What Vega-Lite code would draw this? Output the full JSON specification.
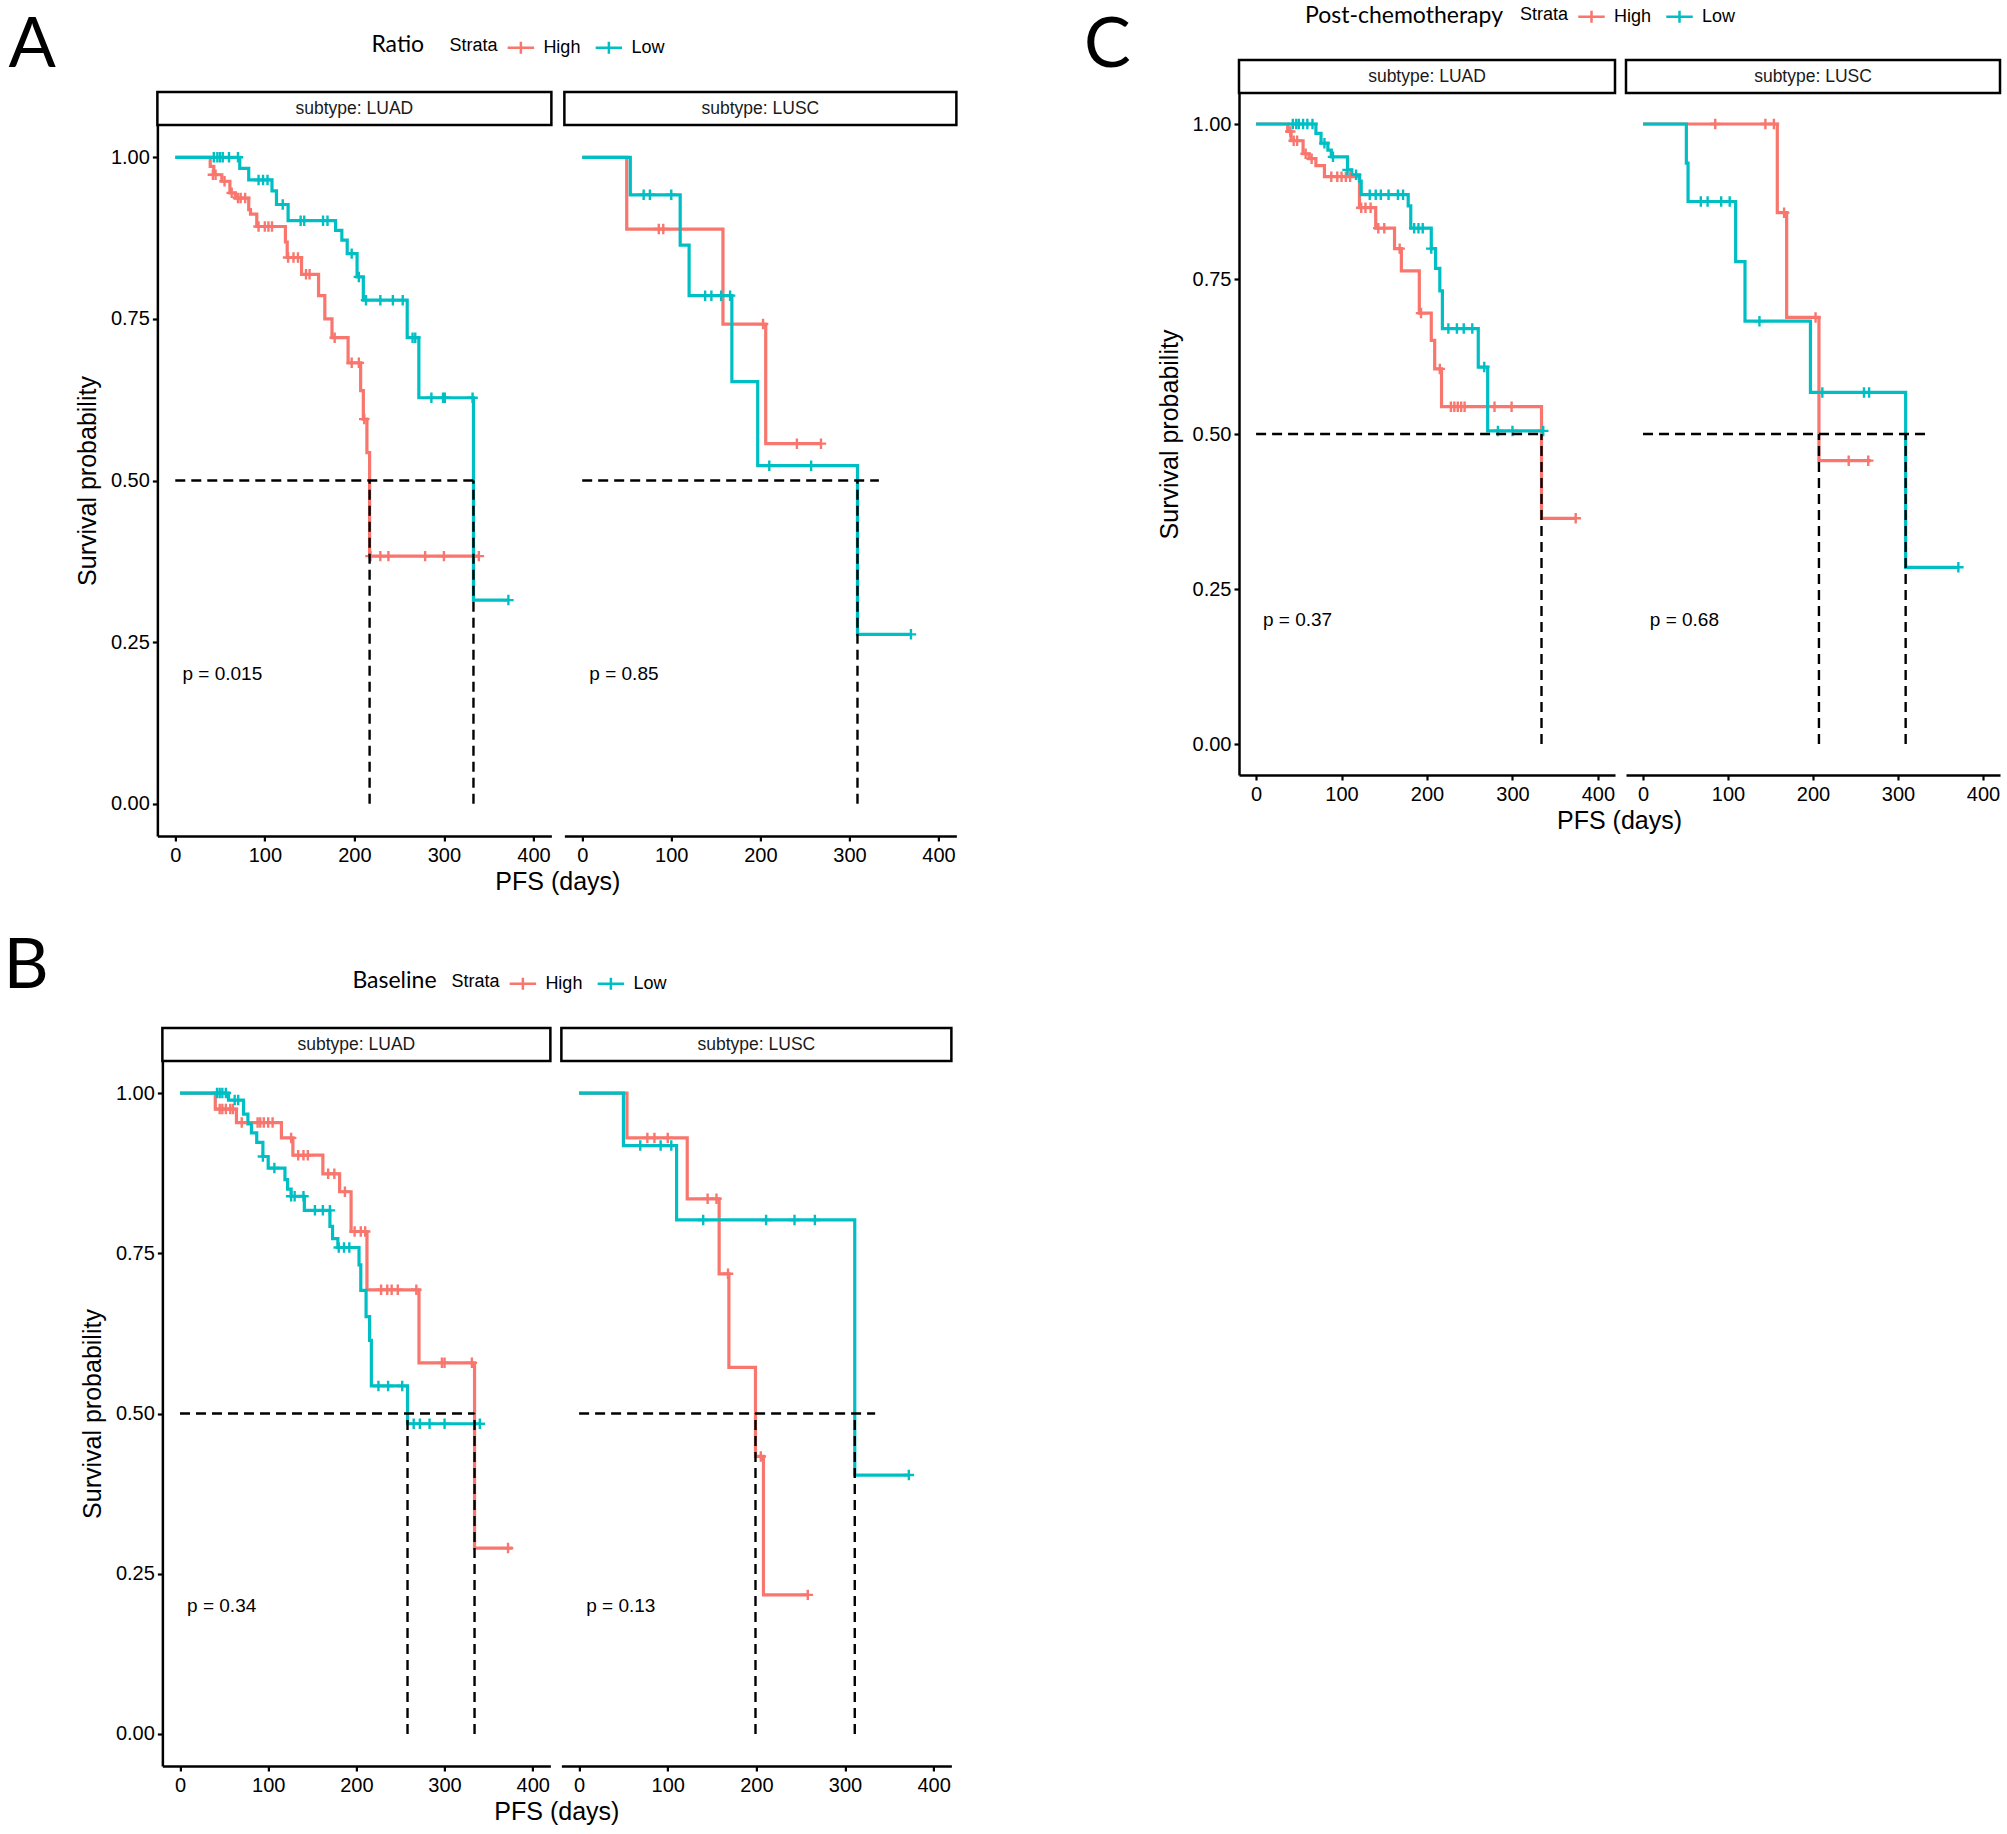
{
"$schema": "https://vega.github.io/schema/vega-lite/v6.json",
"background": "white",
"padding": {"left": 3, "top": 2, "right": 2, "bottom": 2},
"config": {
  "view": {"stroke": null},
  "font": "Liberation Sans",
  "axis": {"domainColor": "black", "domainWidth": 2.5, "tickColor": "black", "tickWidth": 2.2, "tickSize": 5, "labelColor": "black", "labelFont": "Liberation Sans", "labelFontSize": 20, "labelPadding": 3, "titleFont": "Liberation Sans", "titleFontSize": 25, "titleFontWeight": "normal", "titleColor": "black", "grid": false, "labelFlush": false},
  "axisX": {"labelPadding": 4, "titlePadding": 4},
  "legend": {"titleFont": "Liberation Sans", "titleFontSize": 18, "titleFontWeight": "normal", "titleColor": "black", "labelFont": "Liberation Sans", "labelFontSize": 18, "labelColor": "black"},
  "title": {"font": "Lato", "fontWeight": "normal", "color": "black"}
},
"datasets": {
"km": [
{"p":"A","g":"LUAD","k":"High","t":0,"s":1},{"p":"A","g":"LUAD","k":"High","t":39,"s":0.986},{"p":"A","g":"LUAD","k":"High","t":43,"s":0.973},{"p":"A","g":"LUAD","k":"High","t":52,"s":0.963},{"p":"A","g":"LUAD","k":"High","t":61,"s":0.945},{"p":"A","g":"LUAD","k":"High","t":67,"s":0.937},{"p":"A","g":"LUAD","k":"High","t":82,"s":0.919},{"p":"A","g":"LUAD","k":"High","t":84,"s":0.912},{"p":"A","g":"LUAD","k":"High","t":91,"s":0.893},{"p":"A","g":"LUAD","k":"High","t":123,"s":0.869},{"p":"A","g":"LUAD","k":"High","t":125,"s":0.845},{"p":"A","g":"LUAD","k":"High","t":141,"s":0.819},{"p":"A","g":"LUAD","k":"High","t":160,"s":0.786},{"p":"A","g":"LUAD","k":"High","t":167,"s":0.75},{"p":"A","g":"LUAD","k":"High","t":175,"s":0.721},{"p":"A","g":"LUAD","k":"High","t":193,"s":0.682},{"p":"A","g":"LUAD","k":"High","t":207,"s":0.639},{"p":"A","g":"LUAD","k":"High","t":210,"s":0.595},{"p":"A","g":"LUAD","k":"High","t":214,"s":0.543},{"p":"A","g":"LUAD","k":"High","t":217,"s":0.383},{"p":"A","g":"LUAD","k":"High","t":339,"s":0.383},
{"p":"A","g":"LUAD","k":"Low","t":0,"s":1},{"p":"A","g":"LUAD","k":"Low","t":72,"s":0.983},{"p":"A","g":"LUAD","k":"Low","t":82,"s":0.965},{"p":"A","g":"LUAD","k":"Low","t":108,"s":0.948},{"p":"A","g":"LUAD","k":"Low","t":113,"s":0.927},{"p":"A","g":"LUAD","k":"Low","t":126,"s":0.902},{"p":"A","g":"LUAD","k":"Low","t":179,"s":0.887},{"p":"A","g":"LUAD","k":"Low","t":186,"s":0.872},{"p":"A","g":"LUAD","k":"Low","t":192,"s":0.851},{"p":"A","g":"LUAD","k":"Low","t":203,"s":0.815},{"p":"A","g":"LUAD","k":"Low","t":210,"s":0.779},{"p":"A","g":"LUAD","k":"Low","t":259,"s":0.721},{"p":"A","g":"LUAD","k":"Low","t":272,"s":0.628},{"p":"A","g":"LUAD","k":"Low","t":333,"s":0.315},{"p":"A","g":"LUAD","k":"Low","t":372,"s":0.315},
{"p":"A","g":"LUSC","k":"High","t":0,"s":1},{"p":"A","g":"LUSC","k":"High","t":50,"s":0.889},{"p":"A","g":"LUSC","k":"High","t":158,"s":0.742},{"p":"A","g":"LUSC","k":"High","t":206,"s":0.557},{"p":"A","g":"LUSC","k":"High","t":268,"s":0.557},
{"p":"A","g":"LUSC","k":"Low","t":0,"s":1},{"p":"A","g":"LUSC","k":"Low","t":54,"s":0.942},{"p":"A","g":"LUSC","k":"Low","t":110,"s":0.864},{"p":"A","g":"LUSC","k":"Low","t":120,"s":0.786},{"p":"A","g":"LUSC","k":"Low","t":168,"s":0.653},{"p":"A","g":"LUSC","k":"Low","t":197,"s":0.523},{"p":"A","g":"LUSC","k":"Low","t":309,"s":0.262},{"p":"A","g":"LUSC","k":"Low","t":369,"s":0.262},
{"p":"B","g":"LUAD","k":"High","t":0,"s":1},{"p":"B","g":"LUAD","k":"High","t":40,"s":0.975},{"p":"B","g":"LUAD","k":"High","t":64,"s":0.954},{"p":"B","g":"LUAD","k":"High","t":115,"s":0.93},{"p":"B","g":"LUAD","k":"High","t":128,"s":0.903},{"p":"B","g":"LUAD","k":"High","t":162,"s":0.874},{"p":"B","g":"LUAD","k":"High","t":181,"s":0.846},{"p":"B","g":"LUAD","k":"High","t":194,"s":0.784},{"p":"B","g":"LUAD","k":"High","t":212,"s":0.693},{"p":"B","g":"LUAD","k":"High","t":271,"s":0.579},{"p":"B","g":"LUAD","k":"High","t":334,"s":0.29},{"p":"B","g":"LUAD","k":"High","t":377,"s":0.29},
{"p":"B","g":"LUAD","k":"Low","t":0,"s":1},{"p":"B","g":"LUAD","k":"Low","t":55,"s":0.989},{"p":"B","g":"LUAD","k":"Low","t":72,"s":0.967},{"p":"B","g":"LUAD","k":"Low","t":77,"s":0.952},{"p":"B","g":"LUAD","k":"Low","t":81,"s":0.938},{"p":"B","g":"LUAD","k":"Low","t":87,"s":0.923},{"p":"B","g":"LUAD","k":"Low","t":94,"s":0.901},{"p":"B","g":"LUAD","k":"Low","t":100,"s":0.883},{"p":"B","g":"LUAD","k":"Low","t":119,"s":0.865},{"p":"B","g":"LUAD","k":"Low","t":122,"s":0.85},{"p":"B","g":"LUAD","k":"Low","t":126,"s":0.839},{"p":"B","g":"LUAD","k":"Low","t":141,"s":0.817},{"p":"B","g":"LUAD","k":"Low","t":170,"s":0.792},{"p":"B","g":"LUAD","k":"Low","t":173,"s":0.773},{"p":"B","g":"LUAD","k":"Low","t":179,"s":0.759},{"p":"B","g":"LUAD","k":"Low","t":203,"s":0.732},{"p":"B","g":"LUAD","k":"Low","t":205,"s":0.692},{"p":"B","g":"LUAD","k":"Low","t":211,"s":0.651},{"p":"B","g":"LUAD","k":"Low","t":215,"s":0.614},{"p":"B","g":"LUAD","k":"Low","t":217,"s":0.543},{"p":"B","g":"LUAD","k":"Low","t":258,"s":0.484},{"p":"B","g":"LUAD","k":"Low","t":341,"s":0.484},
{"p":"B","g":"LUSC","k":"High","t":0,"s":1},{"p":"B","g":"LUSC","k":"High","t":54,"s":0.93},{"p":"B","g":"LUSC","k":"High","t":122,"s":0.835},{"p":"B","g":"LUSC","k":"High","t":158,"s":0.718},{"p":"B","g":"LUSC","k":"High","t":169,"s":0.572},{"p":"B","g":"LUSC","k":"High","t":199,"s":0.433},{"p":"B","g":"LUSC","k":"High","t":208,"s":0.217},{"p":"B","g":"LUSC","k":"High","t":258,"s":0.217},
{"p":"B","g":"LUSC","k":"Low","t":0,"s":1},{"p":"B","g":"LUSC","k":"Low","t":50,"s":0.918},{"p":"B","g":"LUSC","k":"Low","t":110,"s":0.802},{"p":"B","g":"LUSC","k":"Low","t":311,"s":0.404},{"p":"B","g":"LUSC","k":"Low","t":372,"s":0.404},
{"p":"C","g":"LUAD","k":"High","t":0,"s":1},{"p":"C","g":"LUAD","k":"High","t":37,"s":0.988},{"p":"C","g":"LUAD","k":"High","t":41,"s":0.973},{"p":"C","g":"LUAD","k":"High","t":55,"s":0.952},{"p":"C","g":"LUAD","k":"High","t":62,"s":0.944},{"p":"C","g":"LUAD","k":"High","t":70,"s":0.933},{"p":"C","g":"LUAD","k":"High","t":80,"s":0.915},{"p":"C","g":"LUAD","k":"High","t":121,"s":0.865},{"p":"C","g":"LUAD","k":"High","t":140,"s":0.832},{"p":"C","g":"LUAD","k":"High","t":162,"s":0.799},{"p":"C","g":"LUAD","k":"High","t":170,"s":0.763},{"p":"C","g":"LUAD","k":"High","t":191,"s":0.695},{"p":"C","g":"LUAD","k":"High","t":205,"s":0.651},{"p":"C","g":"LUAD","k":"High","t":209,"s":0.605},{"p":"C","g":"LUAD","k":"High","t":217,"s":0.544},{"p":"C","g":"LUAD","k":"High","t":334,"s":0.364},{"p":"C","g":"LUAD","k":"High","t":375,"s":0.364},
{"p":"C","g":"LUAD","k":"Low","t":0,"s":1},{"p":"C","g":"LUAD","k":"Low","t":70,"s":0.985},{"p":"C","g":"LUAD","k":"Low","t":76,"s":0.969},{"p":"C","g":"LUAD","k":"Low","t":84,"s":0.958},{"p":"C","g":"LUAD","k":"Low","t":88,"s":0.947},{"p":"C","g":"LUAD","k":"Low","t":107,"s":0.926},{"p":"C","g":"LUAD","k":"Low","t":112,"s":0.918},{"p":"C","g":"LUAD","k":"Low","t":121,"s":0.908},{"p":"C","g":"LUAD","k":"Low","t":123,"s":0.886},{"p":"C","g":"LUAD","k":"Low","t":178,"s":0.868},{"p":"C","g":"LUAD","k":"Low","t":181,"s":0.832},{"p":"C","g":"LUAD","k":"Low","t":205,"s":0.799},{"p":"C","g":"LUAD","k":"Low","t":210,"s":0.767},{"p":"C","g":"LUAD","k":"Low","t":215,"s":0.731},{"p":"C","g":"LUAD","k":"Low","t":218,"s":0.67},{"p":"C","g":"LUAD","k":"Low","t":260,"s":0.608},{"p":"C","g":"LUAD","k":"Low","t":271,"s":0.505},{"p":"C","g":"LUAD","k":"Low","t":336,"s":0.505},
{"p":"C","g":"LUSC","k":"High","t":0,"s":1},{"p":"C","g":"LUSC","k":"High","t":158,"s":0.857},{"p":"C","g":"LUSC","k":"High","t":169,"s":0.688},{"p":"C","g":"LUSC","k":"High","t":207,"s":0.457},{"p":"C","g":"LUSC","k":"High","t":268,"s":0.457},
{"p":"C","g":"LUSC","k":"Low","t":0,"s":1},{"p":"C","g":"LUSC","k":"Low","t":51,"s":0.937},{"p":"C","g":"LUSC","k":"Low","t":53,"s":0.875},{"p":"C","g":"LUSC","k":"Low","t":109,"s":0.778},{"p":"C","g":"LUSC","k":"Low","t":120,"s":0.682},{"p":"C","g":"LUSC","k":"Low","t":197,"s":0.567},{"p":"C","g":"LUSC","k":"Low","t":309,"s":0.285},{"p":"C","g":"LUSC","k":"Low","t":371,"s":0.285}
],
"cens": [
{"p":"A","g":"LUAD","k":"High","t":42,"s":0.973},{"p":"A","g":"LUAD","k":"High","t":45,"s":0.973},{"p":"A","g":"LUAD","k":"High","t":55,"s":0.963},{"p":"A","g":"LUAD","k":"High","t":63,"s":0.945},{"p":"A","g":"LUAD","k":"High","t":70,"s":0.937},{"p":"A","g":"LUAD","k":"High","t":73,"s":0.937},{"p":"A","g":"LUAD","k":"High","t":78,"s":0.937},{"p":"A","g":"LUAD","k":"High","t":93,"s":0.893},{"p":"A","g":"LUAD","k":"High","t":100,"s":0.893},{"p":"A","g":"LUAD","k":"High","t":104,"s":0.893},{"p":"A","g":"LUAD","k":"High","t":108,"s":0.893},{"p":"A","g":"LUAD","k":"High","t":126,"s":0.845},{"p":"A","g":"LUAD","k":"High","t":132,"s":0.845},{"p":"A","g":"LUAD","k":"High","t":137,"s":0.845},{"p":"A","g":"LUAD","k":"High","t":146,"s":0.819},{"p":"A","g":"LUAD","k":"High","t":150,"s":0.819},{"p":"A","g":"LUAD","k":"High","t":178,"s":0.721},{"p":"A","g":"LUAD","k":"High","t":197,"s":0.682},{"p":"A","g":"LUAD","k":"High","t":205,"s":0.682},{"p":"A","g":"LUAD","k":"High","t":211,"s":0.595},{"p":"A","g":"LUAD","k":"High","t":218,"s":0.383},{"p":"A","g":"LUAD","k":"High","t":229,"s":0.383},{"p":"A","g":"LUAD","k":"High","t":238,"s":0.383},{"p":"A","g":"LUAD","k":"High","t":279,"s":0.383},{"p":"A","g":"LUAD","k":"High","t":300,"s":0.383},{"p":"A","g":"LUAD","k":"High","t":339,"s":0.383},
{"p":"A","g":"LUAD","k":"Low","t":43,"s":1},{"p":"A","g":"LUAD","k":"Low","t":47,"s":1},{"p":"A","g":"LUAD","k":"Low","t":50,"s":1},{"p":"A","g":"LUAD","k":"Low","t":53,"s":1},{"p":"A","g":"LUAD","k":"Low","t":60,"s":1},{"p":"A","g":"LUAD","k":"Low","t":70,"s":1},{"p":"A","g":"LUAD","k":"Low","t":93,"s":0.965},{"p":"A","g":"LUAD","k":"Low","t":98,"s":0.965},{"p":"A","g":"LUAD","k":"Low","t":103,"s":0.965},{"p":"A","g":"LUAD","k":"Low","t":120,"s":0.927},{"p":"A","g":"LUAD","k":"Low","t":140,"s":0.902},{"p":"A","g":"LUAD","k":"Low","t":144,"s":0.902},{"p":"A","g":"LUAD","k":"Low","t":165,"s":0.902},{"p":"A","g":"LUAD","k":"Low","t":170,"s":0.902},{"p":"A","g":"LUAD","k":"Low","t":197,"s":0.851},{"p":"A","g":"LUAD","k":"Low","t":205,"s":0.815},{"p":"A","g":"LUAD","k":"Low","t":213,"s":0.779},{"p":"A","g":"LUAD","k":"Low","t":229,"s":0.779},{"p":"A","g":"LUAD","k":"Low","t":243,"s":0.779},{"p":"A","g":"LUAD","k":"Low","t":254,"s":0.779},{"p":"A","g":"LUAD","k":"Low","t":265,"s":0.721},{"p":"A","g":"LUAD","k":"Low","t":268,"s":0.721},{"p":"A","g":"LUAD","k":"Low","t":286,"s":0.628},{"p":"A","g":"LUAD","k":"Low","t":299,"s":0.628},{"p":"A","g":"LUAD","k":"Low","t":301,"s":0.628},{"p":"A","g":"LUAD","k":"Low","t":332,"s":0.628},{"p":"A","g":"LUAD","k":"Low","t":372,"s":0.315},
{"p":"A","g":"LUSC","k":"High","t":86,"s":0.889},{"p":"A","g":"LUSC","k":"High","t":91,"s":0.889},{"p":"A","g":"LUSC","k":"High","t":203,"s":0.742},{"p":"A","g":"LUSC","k":"High","t":241,"s":0.557},{"p":"A","g":"LUSC","k":"High","t":268,"s":0.557},
{"p":"A","g":"LUSC","k":"Low","t":69,"s":0.942},{"p":"A","g":"LUSC","k":"Low","t":76,"s":0.942},{"p":"A","g":"LUSC","k":"Low","t":100,"s":0.942},{"p":"A","g":"LUSC","k":"Low","t":138,"s":0.786},{"p":"A","g":"LUSC","k":"Low","t":145,"s":0.786},{"p":"A","g":"LUSC","k":"Low","t":156,"s":0.786},{"p":"A","g":"LUSC","k":"Low","t":166,"s":0.786},{"p":"A","g":"LUSC","k":"Low","t":210,"s":0.523},{"p":"A","g":"LUSC","k":"Low","t":257,"s":0.523},{"p":"A","g":"LUSC","k":"Low","t":369,"s":0.262},
{"p":"B","g":"LUAD","k":"High","t":45,"s":0.975},{"p":"B","g":"LUAD","k":"High","t":48,"s":0.975},{"p":"B","g":"LUAD","k":"High","t":52,"s":0.975},{"p":"B","g":"LUAD","k":"High","t":57,"s":0.975},{"p":"B","g":"LUAD","k":"High","t":60,"s":0.975},{"p":"B","g":"LUAD","k":"High","t":70,"s":0.954},{"p":"B","g":"LUAD","k":"High","t":88,"s":0.954},{"p":"B","g":"LUAD","k":"High","t":91,"s":0.954},{"p":"B","g":"LUAD","k":"High","t":95,"s":0.954},{"p":"B","g":"LUAD","k":"High","t":100,"s":0.954},{"p":"B","g":"LUAD","k":"High","t":105,"s":0.954},{"p":"B","g":"LUAD","k":"High","t":126,"s":0.93},{"p":"B","g":"LUAD","k":"High","t":134,"s":0.903},{"p":"B","g":"LUAD","k":"High","t":140,"s":0.903},{"p":"B","g":"LUAD","k":"High","t":145,"s":0.903},{"p":"B","g":"LUAD","k":"High","t":168,"s":0.874},{"p":"B","g":"LUAD","k":"High","t":175,"s":0.874},{"p":"B","g":"LUAD","k":"High","t":187,"s":0.846},{"p":"B","g":"LUAD","k":"High","t":198,"s":0.784},{"p":"B","g":"LUAD","k":"High","t":205,"s":0.784},{"p":"B","g":"LUAD","k":"High","t":210,"s":0.784},{"p":"B","g":"LUAD","k":"High","t":228,"s":0.693},{"p":"B","g":"LUAD","k":"High","t":235,"s":0.693},{"p":"B","g":"LUAD","k":"High","t":240,"s":0.693},{"p":"B","g":"LUAD","k":"High","t":247,"s":0.693},{"p":"B","g":"LUAD","k":"High","t":268,"s":0.693},{"p":"B","g":"LUAD","k":"High","t":297,"s":0.579},{"p":"B","g":"LUAD","k":"High","t":300,"s":0.579},{"p":"B","g":"LUAD","k":"High","t":331,"s":0.579},{"p":"B","g":"LUAD","k":"High","t":372,"s":0.29},
{"p":"B","g":"LUAD","k":"Low","t":42,"s":1},{"p":"B","g":"LUAD","k":"Low","t":45,"s":1},{"p":"B","g":"LUAD","k":"Low","t":48,"s":1},{"p":"B","g":"LUAD","k":"Low","t":52,"s":1},{"p":"B","g":"LUAD","k":"Low","t":62,"s":0.989},{"p":"B","g":"LUAD","k":"Low","t":66,"s":0.989},{"p":"B","g":"LUAD","k":"Low","t":94,"s":0.901},{"p":"B","g":"LUAD","k":"Low","t":107,"s":0.883},{"p":"B","g":"LUAD","k":"Low","t":126,"s":0.839},{"p":"B","g":"LUAD","k":"Low","t":130,"s":0.839},{"p":"B","g":"LUAD","k":"Low","t":140,"s":0.839},{"p":"B","g":"LUAD","k":"Low","t":153,"s":0.817},{"p":"B","g":"LUAD","k":"Low","t":162,"s":0.817},{"p":"B","g":"LUAD","k":"Low","t":170,"s":0.817},{"p":"B","g":"LUAD","k":"Low","t":180,"s":0.759},{"p":"B","g":"LUAD","k":"Low","t":186,"s":0.759},{"p":"B","g":"LUAD","k":"Low","t":192,"s":0.759},{"p":"B","g":"LUAD","k":"Low","t":225,"s":0.543},{"p":"B","g":"LUAD","k":"Low","t":236,"s":0.543},{"p":"B","g":"LUAD","k":"Low","t":252,"s":0.543},{"p":"B","g":"LUAD","k":"Low","t":265,"s":0.484},{"p":"B","g":"LUAD","k":"Low","t":272,"s":0.484},{"p":"B","g":"LUAD","k":"Low","t":283,"s":0.484},{"p":"B","g":"LUAD","k":"Low","t":300,"s":0.484},{"p":"B","g":"LUAD","k":"Low","t":340,"s":0.484},
{"p":"B","g":"LUSC","k":"High","t":77,"s":0.93},{"p":"B","g":"LUSC","k":"High","t":85,"s":0.93},{"p":"B","g":"LUSC","k":"High","t":100,"s":0.93},{"p":"B","g":"LUSC","k":"High","t":145,"s":0.835},{"p":"B","g":"LUSC","k":"High","t":155,"s":0.835},{"p":"B","g":"LUSC","k":"High","t":168,"s":0.718},{"p":"B","g":"LUSC","k":"High","t":205,"s":0.433},{"p":"B","g":"LUSC","k":"High","t":258,"s":0.217},
{"p":"B","g":"LUSC","k":"Low","t":69,"s":0.918},{"p":"B","g":"LUSC","k":"Low","t":92,"s":0.918},{"p":"B","g":"LUSC","k":"Low","t":104,"s":0.918},{"p":"B","g":"LUSC","k":"Low","t":140,"s":0.802},{"p":"B","g":"LUSC","k":"Low","t":211,"s":0.802},{"p":"B","g":"LUSC","k":"Low","t":243,"s":0.802},{"p":"B","g":"LUSC","k":"Low","t":266,"s":0.802},{"p":"B","g":"LUSC","k":"Low","t":372,"s":0.404},
{"p":"C","g":"LUAD","k":"High","t":40,"s":0.988},{"p":"C","g":"LUAD","k":"High","t":44,"s":0.973},{"p":"C","g":"LUAD","k":"High","t":48,"s":0.973},{"p":"C","g":"LUAD","k":"High","t":58,"s":0.952},{"p":"C","g":"LUAD","k":"High","t":65,"s":0.944},{"p":"C","g":"LUAD","k":"High","t":88,"s":0.915},{"p":"C","g":"LUAD","k":"High","t":95,"s":0.915},{"p":"C","g":"LUAD","k":"High","t":100,"s":0.915},{"p":"C","g":"LUAD","k":"High","t":105,"s":0.915},{"p":"C","g":"LUAD","k":"High","t":110,"s":0.915},{"p":"C","g":"LUAD","k":"High","t":123,"s":0.865},{"p":"C","g":"LUAD","k":"High","t":128,"s":0.865},{"p":"C","g":"LUAD","k":"High","t":134,"s":0.865},{"p":"C","g":"LUAD","k":"High","t":143,"s":0.832},{"p":"C","g":"LUAD","k":"High","t":150,"s":0.832},{"p":"C","g":"LUAD","k":"High","t":168,"s":0.799},{"p":"C","g":"LUAD","k":"High","t":193,"s":0.695},{"p":"C","g":"LUAD","k":"High","t":215,"s":0.605},{"p":"C","g":"LUAD","k":"High","t":228,"s":0.544},{"p":"C","g":"LUAD","k":"High","t":232,"s":0.544},{"p":"C","g":"LUAD","k":"High","t":236,"s":0.544},{"p":"C","g":"LUAD","k":"High","t":240,"s":0.544},{"p":"C","g":"LUAD","k":"High","t":244,"s":0.544},{"p":"C","g":"LUAD","k":"High","t":279,"s":0.544},{"p":"C","g":"LUAD","k":"High","t":299,"s":0.544},{"p":"C","g":"LUAD","k":"High","t":374,"s":0.364},
{"p":"C","g":"LUAD","k":"Low","t":43,"s":1},{"p":"C","g":"LUAD","k":"Low","t":47,"s":1},{"p":"C","g":"LUAD","k":"Low","t":50,"s":1},{"p":"C","g":"LUAD","k":"Low","t":55,"s":1},{"p":"C","g":"LUAD","k":"Low","t":60,"s":1},{"p":"C","g":"LUAD","k":"Low","t":66,"s":1},{"p":"C","g":"LUAD","k":"Low","t":80,"s":0.969},{"p":"C","g":"LUAD","k":"Low","t":90,"s":0.947},{"p":"C","g":"LUAD","k":"Low","t":107,"s":0.926},{"p":"C","g":"LUAD","k":"Low","t":117,"s":0.918},{"p":"C","g":"LUAD","k":"Low","t":133,"s":0.886},{"p":"C","g":"LUAD","k":"Low","t":140,"s":0.886},{"p":"C","g":"LUAD","k":"Low","t":146,"s":0.886},{"p":"C","g":"LUAD","k":"Low","t":155,"s":0.886},{"p":"C","g":"LUAD","k":"Low","t":166,"s":0.886},{"p":"C","g":"LUAD","k":"Low","t":172,"s":0.886},{"p":"C","g":"LUAD","k":"Low","t":185,"s":0.832},{"p":"C","g":"LUAD","k":"Low","t":190,"s":0.832},{"p":"C","g":"LUAD","k":"Low","t":195,"s":0.832},{"p":"C","g":"LUAD","k":"Low","t":205,"s":0.799},{"p":"C","g":"LUAD","k":"Low","t":225,"s":0.67},{"p":"C","g":"LUAD","k":"Low","t":235,"s":0.67},{"p":"C","g":"LUAD","k":"Low","t":243,"s":0.67},{"p":"C","g":"LUAD","k":"Low","t":253,"s":0.67},{"p":"C","g":"LUAD","k":"Low","t":267,"s":0.608},{"p":"C","g":"LUAD","k":"Low","t":283,"s":0.505},{"p":"C","g":"LUAD","k":"Low","t":300,"s":0.505},{"p":"C","g":"LUAD","k":"Low","t":336,"s":0.505},
{"p":"C","g":"LUSC","k":"High","t":85,"s":1},{"p":"C","g":"LUSC","k":"High","t":144,"s":1},{"p":"C","g":"LUSC","k":"High","t":154,"s":1},{"p":"C","g":"LUSC","k":"High","t":166,"s":0.857},{"p":"C","g":"LUSC","k":"High","t":203,"s":0.688},{"p":"C","g":"LUSC","k":"High","t":242,"s":0.457},{"p":"C","g":"LUSC","k":"High","t":265,"s":0.457},
{"p":"C","g":"LUSC","k":"Low","t":68,"s":0.875},{"p":"C","g":"LUSC","k":"Low","t":76,"s":0.875},{"p":"C","g":"LUSC","k":"Low","t":92,"s":0.875},{"p":"C","g":"LUSC","k":"Low","t":102,"s":0.875},{"p":"C","g":"LUSC","k":"Low","t":137,"s":0.682},{"p":"C","g":"LUSC","k":"Low","t":211,"s":0.567},{"p":"C","g":"LUSC","k":"Low","t":260,"s":0.567},{"p":"C","g":"LUSC","k":"Low","t":266,"s":0.567},{"p":"C","g":"LUSC","k":"Low","t":371,"s":0.285}
],
"med": [
{"p":"A","g":"LUAD","t":0,"t2":333,"s":0.5,"s2":0.5},{"p":"A","g":"LUAD","t":217,"t2":217,"s":0,"s2":0.5},{"p":"A","g":"LUAD","t":333,"t2":333,"s":0,"s2":0.5},
{"p":"A","g":"LUSC","t":0,"t2":333,"s":0.5,"s2":0.5},{"p":"A","g":"LUSC","t":309,"t2":309,"s":0,"s2":0.5},
{"p":"B","g":"LUAD","t":0,"t2":334,"s":0.5,"s2":0.5},{"p":"B","g":"LUAD","t":258,"t2":258,"s":0,"s2":0.5},{"p":"B","g":"LUAD","t":334,"t2":334,"s":0,"s2":0.5},
{"p":"B","g":"LUSC","t":0,"t2":334,"s":0.5,"s2":0.5},{"p":"B","g":"LUSC","t":199,"t2":199,"s":0,"s2":0.5},{"p":"B","g":"LUSC","t":311,"t2":311,"s":0,"s2":0.5},
{"p":"C","g":"LUAD","t":0,"t2":334,"s":0.5,"s2":0.5},{"p":"C","g":"LUAD","t":334,"t2":334,"s":0,"s2":0.5},
{"p":"C","g":"LUSC","t":0,"t2":334,"s":0.5,"s2":0.5},{"p":"C","g":"LUSC","t":207,"t2":207,"s":0,"s2":0.5},{"p":"C","g":"LUSC","t":309,"t2":309,"s":0,"s2":0.5}
],
"pv": [
{"p":"A","g":"LUAD","label":"p = 0.015"},{"p":"A","g":"LUSC","label":"p = 0.85"},
{"p":"B","g":"LUAD","label":"p = 0.34"},{"p":"B","g":"LUSC","label":"p = 0.13"},
{"p":"C","g":"LUAD","label":"p = 0.37"},{"p":"C","g":"LUSC","label":"p = 0.68"}
]
},
"columns": 2, "align": "none", "spacing": 126,
"resolve": {"scale": {"x": "independent", "y": "independent"}},
"concat": [
{
"spacing": 38, "center": true,
"resolve": {"scale": {"x": "independent", "y": "independent"}},
"vconcat": [
{
"title": {"text": "A", "anchor": "start", "frame": "bounds", "fontSize": 70, "dx": -67, "offset": -49},
"resolve": {"legend": {"color": "independent"}, "scale": {"x": "independent", "y": "independent"}},
"vconcat": [{
"title": {"text": "Ratio", "anchor": "start", "frame": "group", "fontSize": 23, "dx": 214, "offset": -24},
"columns": 2, "bounds": "flush", "spacing": {"row": 0, "column": 13},
"resolve": {"scale": {"x": "independent", "y": "independent"}},
"concat": [
{"width": 394, "height": 32, "data": {"values": []}, "mark": "point"},
{"width": 392, "height": 32, "data": {"values": []}, "mark": "point"},
{"width": 394, "height": 33, "view": {"stroke": "black", "strokeWidth": 2.5, "fill": "white"}, "data": {"values": [{"label": "subtype: LUAD"}]}, "mark": {"type": "text", "fontSize": 17.5, "color": "#1a1a1a"}, "encoding": {"text": {"field": "label"}}},
{"width": 392, "height": 33, "view": {"stroke": "black", "strokeWidth": 2.5, "fill": "white"}, "data": {"values": [{"label": "subtype: LUSC"}]}, "mark": {"type": "text", "fontSize": 17.5, "color": "#1a1a1a"}, "encoding": {"text": {"field": "label"}}},
{"width": 394, "height": 711,
 "layer": [
  {"data": {"name": "km"}, "transform": [{"filter": "datum.p=='A'&&datum.g=='LUAD'"}], "mark": {"type": "line", "interpolate": "step-after", "strokeWidth": 3.2},
   "encoding": {"x": {"field": "t", "type": "quantitative", "scale": {"domain": [-20, 420], "nice": false, "zero": false}, "axis": {"values": [0,100,200,300,400], "title": "PFS (days)", "titleX": 400}}, "y": {"field": "s", "type": "quantitative", "scale": {"domain": [-0.05, 1.05], "nice": false, "zero": false}, "axis": {"values": [0,0.25,0.5,0.75,1], "format": ".2f", "title": "Survival probability", "titlePadding": 10}},
    "color": {"field": "k", "type": "nominal", "scale": {"domain": ["High","Low"], "range": ["#F8766D","#00BFC4"]}, "legend": {"title": "Strata", "orient": "none", "legendX": 292, "legendY": -27, "direction": "horizontal", "titleOrient": "left", "symbolType": "M-1,0H1M0,-0.45V0.45", "symbolSize": 700, "symbolStrokeWidth": 2.5, "titlePadding": 8, "columnPadding": 9, "labelOffset": 8}}}},
  {"data": {"name": "cens"}, "transform": [{"filter": "datum.p=='A'&&datum.g=='LUAD'"}], "mark": {"type": "point", "shape": "M-1,0H1M0,-1V1", "filled": false, "size": 110, "strokeWidth": 2.4, "opacity": 1},
   "encoding": {"x": {"field": "t", "type": "quantitative", "scale": {"domain": [-20, 420], "nice": false, "zero": false}, "axis": {"values": [0,100,200,300,400], "title": "PFS (days)", "titleX": 400}}, "y": {"field": "s", "type": "quantitative", "scale": {"domain": [-0.05, 1.05], "nice": false, "zero": false}, "axis": {"values": [0,0.25,0.5,0.75,1], "format": ".2f", "title": "Survival probability", "titlePadding": 10}},
    "color": {"field": "k", "type": "nominal", "scale": {"domain": ["High","Low"], "range": ["#F8766D","#00BFC4"]}, "legend": {"title": "Strata", "orient": "none", "legendX": 292, "legendY": -27, "direction": "horizontal", "titleOrient": "left", "symbolType": "M-1,0H1M0,-0.45V0.45", "symbolSize": 700, "symbolStrokeWidth": 2.5, "titlePadding": 8, "columnPadding": 9, "labelOffset": 8}}}},
  {"data": {"name": "med"}, "transform": [{"filter": "datum.p=='A'&&datum.g=='LUAD'"}], "mark": {"type": "rule", "color": "black", "strokeWidth": 2.4, "strokeDash": [10, 6]},
   "encoding": {"x": {"field": "t", "type": "quantitative", "scale": {"domain": [-20, 420], "nice": false, "zero": false}, "axis": {"values": [0,100,200,300,400], "title": "PFS (days)", "titleX": 400}}, "y": {"field": "s", "type": "quantitative", "scale": {"domain": [-0.05, 1.05], "nice": false, "zero": false}, "axis": {"values": [0,0.25,0.5,0.75,1], "format": ".2f", "title": "Survival probability", "titlePadding": 10}}, "x2": {"field": "t2"}, "y2": {"field": "s2"}}},
  {"data": {"name": "pv"}, "transform": [{"filter": "datum.p=='A'&&datum.g=='LUAD'"}], "mark": {"type": "text", "align": "left", "baseline": "middle", "fontSize": 19, "color": "black"},
   "encoding": {"x": {"datum": 8, "type": "quantitative", "scale": {"domain": [-20, 420], "nice": false, "zero": false}, "axis": {"values": [0,100,200,300,400], "title": "PFS (days)", "titleX": 400}}, "y": {"datum": 0.2, "type": "quantitative", "scale": {"domain": [-0.05, 1.05], "nice": false, "zero": false}, "axis": {"values": [0,0.25,0.5,0.75,1], "format": ".2f", "title": "Survival probability", "titlePadding": 10}}, "text": {"field": "label"}}}
 ]},
{"width": 392, "height": 711,
 "layer": [
  {"data": {"name": "km"}, "transform": [{"filter": "datum.p=='A'&&datum.g=='LUSC'"}], "mark": {"type": "line", "interpolate": "step-after", "strokeWidth": 3.2},
   "encoding": {"x": {"field": "t", "type": "quantitative", "scale": {"domain": [-20, 420], "nice": false, "zero": false}, "axis": {"values": [0,100,200,300,400], "title": null}}, "y": {"field": "s", "type": "quantitative", "scale": {"domain": [-0.05, 1.05], "nice": false, "zero": false}, "axis": null},
    "color": {"field": "k", "type": "nominal", "scale": {"domain": ["High","Low"], "range": ["#F8766D","#00BFC4"]}, "legend": {"title": "Strata", "orient": "none", "legendX": 292, "legendY": -27, "direction": "horizontal", "titleOrient": "left", "symbolType": "M-1,0H1M0,-0.45V0.45", "symbolSize": 700, "symbolStrokeWidth": 2.5, "titlePadding": 8, "columnPadding": 9, "labelOffset": 8}}}},
  {"data": {"name": "cens"}, "transform": [{"filter": "datum.p=='A'&&datum.g=='LUSC'"}], "mark": {"type": "point", "shape": "M-1,0H1M0,-1V1", "filled": false, "size": 110, "strokeWidth": 2.4, "opacity": 1},
   "encoding": {"x": {"field": "t", "type": "quantitative", "scale": {"domain": [-20, 420], "nice": false, "zero": false}, "axis": {"values": [0,100,200,300,400], "title": null}}, "y": {"field": "s", "type": "quantitative", "scale": {"domain": [-0.05, 1.05], "nice": false, "zero": false}, "axis": null},
    "color": {"field": "k", "type": "nominal", "scale": {"domain": ["High","Low"], "range": ["#F8766D","#00BFC4"]}, "legend": {"title": "Strata", "orient": "none", "legendX": 292, "legendY": -27, "direction": "horizontal", "titleOrient": "left", "symbolType": "M-1,0H1M0,-0.45V0.45", "symbolSize": 700, "symbolStrokeWidth": 2.5, "titlePadding": 8, "columnPadding": 9, "labelOffset": 8}}}},
  {"data": {"name": "med"}, "transform": [{"filter": "datum.p=='A'&&datum.g=='LUSC'"}], "mark": {"type": "rule", "color": "black", "strokeWidth": 2.4, "strokeDash": [10, 6]},
   "encoding": {"x": {"field": "t", "type": "quantitative", "scale": {"domain": [-20, 420], "nice": false, "zero": false}, "axis": {"values": [0,100,200,300,400], "title": null}}, "y": {"field": "s", "type": "quantitative", "scale": {"domain": [-0.05, 1.05], "nice": false, "zero": false}, "axis": null}, "x2": {"field": "t2"}, "y2": {"field": "s2"}}},
  {"data": {"name": "pv"}, "transform": [{"filter": "datum.p=='A'&&datum.g=='LUSC'"}], "mark": {"type": "text", "align": "left", "baseline": "middle", "fontSize": 19, "color": "black"},
   "encoding": {"x": {"datum": 8, "type": "quantitative", "scale": {"domain": [-20, 420], "nice": false, "zero": false}, "axis": {"values": [0,100,200,300,400], "title": null}}, "y": {"datum": 0.2, "type": "quantitative", "scale": {"domain": [-0.05, 1.05], "nice": false, "zero": false}, "axis": null}, "text": {"field": "label"}}}
 ]}
]
}]
},
{
"title": {"text": "B", "anchor": "start", "frame": "bounds", "fontSize": 70, "dx": -77, "offset": -34},
"resolve": {"legend": {"color": "independent"}, "scale": {"x": "independent", "y": "independent"}},
"vconcat": [{
"title": {"text": "Baseline", "anchor": "start", "frame": "group", "fontSize": 23, "dx": 190, "offset": -24},
"columns": 2, "bounds": "flush", "spacing": {"row": 0, "column": 11},
"resolve": {"scale": {"x": "independent", "y": "independent"}},
"concat": [
{"width": 388, "height": 33, "view": {"stroke": "black", "strokeWidth": 2.5, "fill": "white"}, "data": {"values": [{"label": "subtype: LUAD"}]}, "mark": {"type": "text", "fontSize": 17.5, "color": "#1a1a1a"}, "encoding": {"text": {"field": "label"}}},
{"width": 390, "height": 33, "view": {"stroke": "black", "strokeWidth": 2.5, "fill": "white"}, "data": {"values": [{"label": "subtype: LUSC"}]}, "mark": {"type": "text", "fontSize": 17.5, "color": "#1a1a1a"}, "encoding": {"text": {"field": "label"}}},
{"width": 388, "height": 705,
 "layer": [
  {"data": {"name": "km"}, "transform": [{"filter": "datum.p=='B'&&datum.g=='LUAD'"}], "mark": {"type": "line", "interpolate": "step-after", "strokeWidth": 3.2},
   "encoding": {"x": {"field": "t", "type": "quantitative", "scale": {"domain": [-20, 420], "nice": false, "zero": false}, "axis": {"values": [0,100,200,300,400], "title": "PFS (days)", "titleX": 394}}, "y": {"field": "s", "type": "quantitative", "scale": {"domain": [-0.05, 1.05], "nice": false, "zero": false}, "axis": {"values": [0,0.25,0.5,0.75,1], "format": ".2f", "title": "Survival probability", "titlePadding": 10}},
    "color": {"field": "k", "type": "nominal", "scale": {"domain": ["High","Low"], "range": ["#F8766D","#00BFC4"]}, "legend": {"title": "Strata", "orient": "none", "legendX": 289, "legendY": -59, "direction": "horizontal", "titleOrient": "left", "symbolType": "M-1,0H1M0,-0.45V0.45", "symbolSize": 700, "symbolStrokeWidth": 2.5, "titlePadding": 8, "columnPadding": 9, "labelOffset": 8}}}},
  {"data": {"name": "cens"}, "transform": [{"filter": "datum.p=='B'&&datum.g=='LUAD'"}], "mark": {"type": "point", "shape": "M-1,0H1M0,-1V1", "filled": false, "size": 110, "strokeWidth": 2.4, "opacity": 1},
   "encoding": {"x": {"field": "t", "type": "quantitative", "scale": {"domain": [-20, 420], "nice": false, "zero": false}, "axis": {"values": [0,100,200,300,400], "title": "PFS (days)", "titleX": 394}}, "y": {"field": "s", "type": "quantitative", "scale": {"domain": [-0.05, 1.05], "nice": false, "zero": false}, "axis": {"values": [0,0.25,0.5,0.75,1], "format": ".2f", "title": "Survival probability", "titlePadding": 10}},
    "color": {"field": "k", "type": "nominal", "scale": {"domain": ["High","Low"], "range": ["#F8766D","#00BFC4"]}, "legend": {"title": "Strata", "orient": "none", "legendX": 289, "legendY": -59, "direction": "horizontal", "titleOrient": "left", "symbolType": "M-1,0H1M0,-0.45V0.45", "symbolSize": 700, "symbolStrokeWidth": 2.5, "titlePadding": 8, "columnPadding": 9, "labelOffset": 8}}}},
  {"data": {"name": "med"}, "transform": [{"filter": "datum.p=='B'&&datum.g=='LUAD'"}], "mark": {"type": "rule", "color": "black", "strokeWidth": 2.4, "strokeDash": [10, 6]},
   "encoding": {"x": {"field": "t", "type": "quantitative", "scale": {"domain": [-20, 420], "nice": false, "zero": false}, "axis": {"values": [0,100,200,300,400], "title": "PFS (days)", "titleX": 394}}, "y": {"field": "s", "type": "quantitative", "scale": {"domain": [-0.05, 1.05], "nice": false, "zero": false}, "axis": {"values": [0,0.25,0.5,0.75,1], "format": ".2f", "title": "Survival probability", "titlePadding": 10}}, "x2": {"field": "t2"}, "y2": {"field": "s2"}}},
  {"data": {"name": "pv"}, "transform": [{"filter": "datum.p=='B'&&datum.g=='LUAD'"}], "mark": {"type": "text", "align": "left", "baseline": "middle", "fontSize": 19, "color": "black"},
   "encoding": {"x": {"datum": 8, "type": "quantitative", "scale": {"domain": [-20, 420], "nice": false, "zero": false}, "axis": {"values": [0,100,200,300,400], "title": "PFS (days)", "titleX": 394}}, "y": {"datum": 0.2, "type": "quantitative", "scale": {"domain": [-0.05, 1.05], "nice": false, "zero": false}, "axis": {"values": [0,0.25,0.5,0.75,1], "format": ".2f", "title": "Survival probability", "titlePadding": 10}}, "text": {"field": "label"}}}
 ]},
{"width": 390, "height": 705,
 "layer": [
  {"data": {"name": "km"}, "transform": [{"filter": "datum.p=='B'&&datum.g=='LUSC'"}], "mark": {"type": "line", "interpolate": "step-after", "strokeWidth": 3.2},
   "encoding": {"x": {"field": "t", "type": "quantitative", "scale": {"domain": [-20, 420], "nice": false, "zero": false}, "axis": {"values": [0,100,200,300,400], "title": null}}, "y": {"field": "s", "type": "quantitative", "scale": {"domain": [-0.05, 1.05], "nice": false, "zero": false}, "axis": null},
    "color": {"field": "k", "type": "nominal", "scale": {"domain": ["High","Low"], "range": ["#F8766D","#00BFC4"]}, "legend": {"title": "Strata", "orient": "none", "legendX": 289, "legendY": -59, "direction": "horizontal", "titleOrient": "left", "symbolType": "M-1,0H1M0,-0.45V0.45", "symbolSize": 700, "symbolStrokeWidth": 2.5, "titlePadding": 8, "columnPadding": 9, "labelOffset": 8}}}},
  {"data": {"name": "cens"}, "transform": [{"filter": "datum.p=='B'&&datum.g=='LUSC'"}], "mark": {"type": "point", "shape": "M-1,0H1M0,-1V1", "filled": false, "size": 110, "strokeWidth": 2.4, "opacity": 1},
   "encoding": {"x": {"field": "t", "type": "quantitative", "scale": {"domain": [-20, 420], "nice": false, "zero": false}, "axis": {"values": [0,100,200,300,400], "title": null}}, "y": {"field": "s", "type": "quantitative", "scale": {"domain": [-0.05, 1.05], "nice": false, "zero": false}, "axis": null},
    "color": {"field": "k", "type": "nominal", "scale": {"domain": ["High","Low"], "range": ["#F8766D","#00BFC4"]}, "legend": {"title": "Strata", "orient": "none", "legendX": 289, "legendY": -59, "direction": "horizontal", "titleOrient": "left", "symbolType": "M-1,0H1M0,-0.45V0.45", "symbolSize": 700, "symbolStrokeWidth": 2.5, "titlePadding": 8, "columnPadding": 9, "labelOffset": 8}}}},
  {"data": {"name": "med"}, "transform": [{"filter": "datum.p=='B'&&datum.g=='LUSC'"}], "mark": {"type": "rule", "color": "black", "strokeWidth": 2.4, "strokeDash": [10, 6]},
   "encoding": {"x": {"field": "t", "type": "quantitative", "scale": {"domain": [-20, 420], "nice": false, "zero": false}, "axis": {"values": [0,100,200,300,400], "title": null}}, "y": {"field": "s", "type": "quantitative", "scale": {"domain": [-0.05, 1.05], "nice": false, "zero": false}, "axis": null}, "x2": {"field": "t2"}, "y2": {"field": "s2"}}},
  {"data": {"name": "pv"}, "transform": [{"filter": "datum.p=='B'&&datum.g=='LUSC'"}], "mark": {"type": "text", "align": "left", "baseline": "middle", "fontSize": 19, "color": "black"},
   "encoding": {"x": {"datum": 8, "type": "quantitative", "scale": {"domain": [-20, 420], "nice": false, "zero": false}, "axis": {"values": [0,100,200,300,400], "title": null}}, "y": {"datum": 0.2, "type": "quantitative", "scale": {"domain": [-0.05, 1.05], "nice": false, "zero": false}, "axis": null}, "text": {"field": "label"}}}
 ]}
]
}]
}
]
},
{
"title": {"text": "C", "anchor": "start", "frame": "bounds", "fontSize": 70, "dx": -73, "offset": -80},
"resolve": {"legend": {"color": "independent"}, "scale": {"x": "independent", "y": "independent"}},
"vconcat": [{
"title": {"text": "Post-chemotherapy", "anchor": "start", "frame": "group", "fontSize": 23, "dx": 66, "offset": -26},
"columns": 2, "bounds": "flush", "spacing": {"row": 0, "column": 11},
"resolve": {"scale": {"x": "independent", "y": "independent"}},
"concat": [
{"width": 376, "height": 33, "view": {"stroke": "black", "strokeWidth": 2.5, "fill": "white"}, "data": {"values": [{"label": "subtype: LUAD"}]}, "mark": {"type": "text", "fontSize": 17.5, "color": "#1a1a1a"}, "encoding": {"text": {"field": "label"}}},
{"width": 374, "height": 33, "view": {"stroke": "black", "strokeWidth": 2.5, "fill": "white"}, "data": {"values": [{"label": "subtype: LUSC"}]}, "mark": {"type": "text", "fontSize": 17.5, "color": "#1a1a1a"}, "encoding": {"text": {"field": "label"}}},
{"width": 376, "height": 682,
 "layer": [
  {"data": {"name": "km"}, "transform": [{"filter": "datum.p=='C'&&datum.g=='LUAD'"}], "mark": {"type": "line", "interpolate": "step-after", "strokeWidth": 3.2},
   "encoding": {"x": {"field": "t", "type": "quantitative", "scale": {"domain": [-20, 420], "nice": false, "zero": false}, "axis": {"values": [0,100,200,300,400], "title": "PFS (days)", "titleX": 380}}, "y": {"field": "s", "type": "quantitative", "scale": {"domain": [-0.05, 1.05], "nice": false, "zero": false}, "axis": {"values": [0,0.25,0.5,0.75,1], "format": ".2f", "title": "Survival probability", "titlePadding": 10}},
    "color": {"field": "k", "type": "nominal", "scale": {"domain": ["High","Low"], "range": ["#F8766D","#00BFC4"]}, "legend": {"title": "Strata", "orient": "none", "legendX": 281, "legendY": -58, "direction": "horizontal", "titleOrient": "left", "symbolType": "M-1,0H1M0,-0.45V0.45", "symbolSize": 700, "symbolStrokeWidth": 2.5, "titlePadding": 8, "columnPadding": 9, "labelOffset": 8}}}},
  {"data": {"name": "cens"}, "transform": [{"filter": "datum.p=='C'&&datum.g=='LUAD'"}], "mark": {"type": "point", "shape": "M-1,0H1M0,-1V1", "filled": false, "size": 110, "strokeWidth": 2.4, "opacity": 1},
   "encoding": {"x": {"field": "t", "type": "quantitative", "scale": {"domain": [-20, 420], "nice": false, "zero": false}, "axis": {"values": [0,100,200,300,400], "title": "PFS (days)", "titleX": 380}}, "y": {"field": "s", "type": "quantitative", "scale": {"domain": [-0.05, 1.05], "nice": false, "zero": false}, "axis": {"values": [0,0.25,0.5,0.75,1], "format": ".2f", "title": "Survival probability", "titlePadding": 10}},
    "color": {"field": "k", "type": "nominal", "scale": {"domain": ["High","Low"], "range": ["#F8766D","#00BFC4"]}, "legend": {"title": "Strata", "orient": "none", "legendX": 281, "legendY": -58, "direction": "horizontal", "titleOrient": "left", "symbolType": "M-1,0H1M0,-0.45V0.45", "symbolSize": 700, "symbolStrokeWidth": 2.5, "titlePadding": 8, "columnPadding": 9, "labelOffset": 8}}}},
  {"data": {"name": "med"}, "transform": [{"filter": "datum.p=='C'&&datum.g=='LUAD'"}], "mark": {"type": "rule", "color": "black", "strokeWidth": 2.4, "strokeDash": [10, 6]},
   "encoding": {"x": {"field": "t", "type": "quantitative", "scale": {"domain": [-20, 420], "nice": false, "zero": false}, "axis": {"values": [0,100,200,300,400], "title": "PFS (days)", "titleX": 380}}, "y": {"field": "s", "type": "quantitative", "scale": {"domain": [-0.05, 1.05], "nice": false, "zero": false}, "axis": {"values": [0,0.25,0.5,0.75,1], "format": ".2f", "title": "Survival probability", "titlePadding": 10}}, "x2": {"field": "t2"}, "y2": {"field": "s2"}}},
  {"data": {"name": "pv"}, "transform": [{"filter": "datum.p=='C'&&datum.g=='LUAD'"}], "mark": {"type": "text", "align": "left", "baseline": "middle", "fontSize": 19, "color": "black"},
   "encoding": {"x": {"datum": 8, "type": "quantitative", "scale": {"domain": [-20, 420], "nice": false, "zero": false}, "axis": {"values": [0,100,200,300,400], "title": "PFS (days)", "titleX": 380}}, "y": {"datum": 0.2, "type": "quantitative", "scale": {"domain": [-0.05, 1.05], "nice": false, "zero": false}, "axis": {"values": [0,0.25,0.5,0.75,1], "format": ".2f", "title": "Survival probability", "titlePadding": 10}}, "text": {"field": "label"}}}
 ]},
{"width": 374, "height": 682,
 "layer": [
  {"data": {"name": "km"}, "transform": [{"filter": "datum.p=='C'&&datum.g=='LUSC'"}], "mark": {"type": "line", "interpolate": "step-after", "strokeWidth": 3.2},
   "encoding": {"x": {"field": "t", "type": "quantitative", "scale": {"domain": [-20, 420], "nice": false, "zero": false}, "axis": {"values": [0,100,200,300,400], "title": null}}, "y": {"field": "s", "type": "quantitative", "scale": {"domain": [-0.05, 1.05], "nice": false, "zero": false}, "axis": null},
    "color": {"field": "k", "type": "nominal", "scale": {"domain": ["High","Low"], "range": ["#F8766D","#00BFC4"]}, "legend": {"title": "Strata", "orient": "none", "legendX": 281, "legendY": -58, "direction": "horizontal", "titleOrient": "left", "symbolType": "M-1,0H1M0,-0.45V0.45", "symbolSize": 700, "symbolStrokeWidth": 2.5, "titlePadding": 8, "columnPadding": 9, "labelOffset": 8}}}},
  {"data": {"name": "cens"}, "transform": [{"filter": "datum.p=='C'&&datum.g=='LUSC'"}], "mark": {"type": "point", "shape": "M-1,0H1M0,-1V1", "filled": false, "size": 110, "strokeWidth": 2.4, "opacity": 1},
   "encoding": {"x": {"field": "t", "type": "quantitative", "scale": {"domain": [-20, 420], "nice": false, "zero": false}, "axis": {"values": [0,100,200,300,400], "title": null}}, "y": {"field": "s", "type": "quantitative", "scale": {"domain": [-0.05, 1.05], "nice": false, "zero": false}, "axis": null},
    "color": {"field": "k", "type": "nominal", "scale": {"domain": ["High","Low"], "range": ["#F8766D","#00BFC4"]}, "legend": {"title": "Strata", "orient": "none", "legendX": 281, "legendY": -58, "direction": "horizontal", "titleOrient": "left", "symbolType": "M-1,0H1M0,-0.45V0.45", "symbolSize": 700, "symbolStrokeWidth": 2.5, "titlePadding": 8, "columnPadding": 9, "labelOffset": 8}}}},
  {"data": {"name": "med"}, "transform": [{"filter": "datum.p=='C'&&datum.g=='LUSC'"}], "mark": {"type": "rule", "color": "black", "strokeWidth": 2.4, "strokeDash": [10, 6]},
   "encoding": {"x": {"field": "t", "type": "quantitative", "scale": {"domain": [-20, 420], "nice": false, "zero": false}, "axis": {"values": [0,100,200,300,400], "title": null}}, "y": {"field": "s", "type": "quantitative", "scale": {"domain": [-0.05, 1.05], "nice": false, "zero": false}, "axis": null}, "x2": {"field": "t2"}, "y2": {"field": "s2"}}},
  {"data": {"name": "pv"}, "transform": [{"filter": "datum.p=='C'&&datum.g=='LUSC'"}], "mark": {"type": "text", "align": "left", "baseline": "middle", "fontSize": 19, "color": "black"},
   "encoding": {"x": {"datum": 8, "type": "quantitative", "scale": {"domain": [-20, 420], "nice": false, "zero": false}, "axis": {"values": [0,100,200,300,400], "title": null}}, "y": {"datum": 0.2, "type": "quantitative", "scale": {"domain": [-0.05, 1.05], "nice": false, "zero": false}, "axis": null}, "text": {"field": "label"}}}
 ]}
]
}]
}
]
}
